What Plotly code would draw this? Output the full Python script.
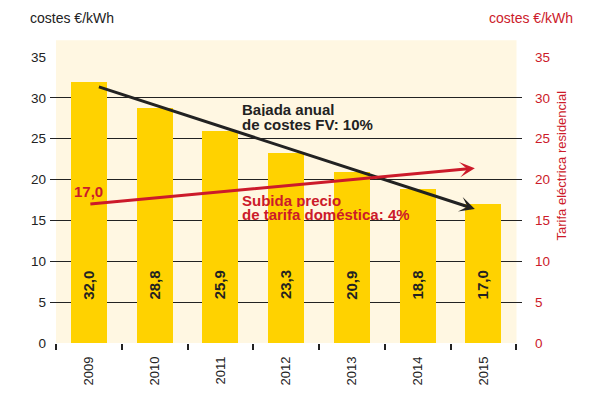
import plotly.graph_objects as go

# ---- data ----
years = [2009, 2010, 2011, 2012, 2013, 2014, 2015]
pv_costs = [32.0, 28.8, 25.9, 23.3, 20.9, 18.8, 17.0]
y_ticks = [0, 5, 10, 15, 20, 25, 30, 35]

pv_trend_x = [2009.13, 2014.87]
pv_trend_y = [31.4, 16.4]
tariff_trend_x = [2009.0, 2014.87]
tariff_trend_y = [17.0, 21.4]

pv_label = ["Bajada anual", "de costes FV: 10%"]
tariff_label = ["Subida precio", "de tarifa doméstica: 4%"]
left_title = "costes €/kWh"
right_title = "costes €/kWh"
right_axis_title = "Tarifa eléctrica residencial"

# ---- style ----
YELLOW = "#FFD200"
CREAM = "#FFF7E2"
RED = "#CC1A2A"
DARK = "#222222"
FONT = "Liberation Sans, Arial, sans-serif"

PAGE_OFF = 8  # default page margin of the html body
L, R, T, B = 50, 522, 57, 347  # plot area in screen pixels
W, H = R - L, B - T


def px(x):
    return (x - L) / W


def py(y):
    return (B - y) / H


fig = go.Figure()
fig.add_trace(go.Bar(
    x=years, y=pv_costs, width=0.55,
    marker=dict(color=YELLOW, line=dict(width=0)),
    hoverinfo="skip", showlegend=False,
))
# invisible trace on the right axis (tariff trend)
fig.add_trace(go.Scatter(
    x=tariff_trend_x, y=tariff_trend_y, yaxis="y2", mode="lines",
    line=dict(width=0, color=RED), opacity=0, hoverinfo="skip", showlegend=False,
))

annotations = []
# bar value labels
for yr, v in zip(years, pv_costs):
    annotations.append(dict(
        x=yr, y=7.1, xref="x", yref="y", text=f"{v:.1f}".replace(".", ","),
        textangle=-90, showarrow=False, xanchor="center", yanchor="middle",
        font=dict(family=FONT, size=15, color=DARK, weight="bold"),
    ))

# trend arrows
annotations.append(dict(
    x=pv_trend_x[1], y=pv_trend_y[1], ax=pv_trend_x[0], ay=pv_trend_y[0],
    xref="x", yref="y", axref="x", ayref="y", text="", showarrow=True,
    arrowhead=3, arrowsize=0.85, arrowwidth=3, arrowcolor=DARK, standoff=0,
))
annotations.append(dict(
    x=tariff_trend_x[1], y=tariff_trend_y[1], ax=tariff_trend_x[0], ay=tariff_trend_y[0],
    xref="x", yref="y2", axref="x", ayref="y2", text="", showarrow=True,
    arrowhead=3, arrowsize=0.85, arrowwidth=3, arrowcolor=RED, standoff=0,
))

# trend texts
for t, yc in zip(pv_label, [109.5, 124.5]):
    annotations.append(dict(
        x=px(241), y=py(yc), xref="paper", yref="paper", text=t, showarrow=False,
        xanchor="left", yanchor="middle", height=14, borderpad=0,
        font=dict(family=FONT, size=15, color=DARK, weight="bold"),
    ))
for t, yc in zip(tariff_label, [201.5, 216]):
    annotations.append(dict(
        x=px(241), y=py(yc), xref="paper", yref="paper", text=t, showarrow=False,
        xanchor="left", yanchor="middle", height=14, borderpad=0,
        font=dict(family=FONT, size=15, color=RED, weight="bold"),
    ))
annotations.append(dict(
    x=tariff_trend_x[0], y=py(193), xref="x", yref="paper",
    text=f"{tariff_trend_y[0]:.1f}".replace(".", ","), showarrow=False,
    xanchor="center", yanchor="middle",
    font=dict(family=FONT, size=15, color=RED, weight="bold"),
))

# titles
annotations.append(dict(
    x=px(28), y=py(17), xref="paper", yref="paper", text=left_title, showarrow=False,
    xanchor="left", yanchor="middle", font=dict(family=FONT, size=14, color=DARK),
))
annotations.append(dict(
    x=px(575), y=py(17), xref="paper", yref="paper", text=right_title, showarrow=False,
    xanchor="right", yanchor="middle", font=dict(family=FONT, size=14, color=RED),
))
annotations.append(dict(
    x=px(561), y=py(167), xref="paper", yref="paper", text=right_axis_title,
    showarrow=False, textangle=-90, xanchor="center", yanchor="middle",
    font=dict(family=FONT, size=13, color=RED),
))

fig.update_layout(
    width=600 - PAGE_OFF, height=398 - PAGE_OFF, autosize=False,
    margin=dict(l=L - PAGE_OFF, r=600 - R, t=T - PAGE_OFF, b=398 - B),
    paper_bgcolor="white", plot_bgcolor="rgba(0,0,0,0)",
    showlegend=False, bargap=0,
    font=dict(family=FONT, color=DARK),
    shapes=[dict(
        type="rect", xref="paper", yref="paper", layer="below",
        x0=px(56), x1=px(516.5), y0=0, y1=py(40),
        fillcolor=CREAM, line=dict(width=0),
    )],
    annotations=annotations,
    xaxis=dict(
        range=[2008.409, 2015.587], tickmode="array", tickvals=years,
        ticktext=[str(y) for y in years], tickangle=-90, ticks="",
        tickfont=dict(family=FONT, size=13, color=DARK),
        ticklabelstandoff=10,
        showgrid=False, zeroline=False, showline=False,
        minor=dict(tickmode="array", tickvals=[y - 0.5 for y in years] + [years[-1] + 0.5],
                   ticks="outside", ticklen=6, tickcolor=DARK, tickwidth=1.5, showgrid=False),
    ),
    yaxis=dict(
        range=[0, 35], tickmode="array", tickvals=y_ticks, ticks="",
        tickfont=dict(family=FONT, size=13.5, color=DARK),
        showgrid=True, gridcolor=DARK, gridwidth=1.3, zeroline=False, showline=False,
        ticklabelstandoff=3,
    ),
    yaxis2=dict(
        range=[0, 35], tickmode="array", tickvals=y_ticks, ticks="",
        overlaying="y", side="right",
        tickfont=dict(family=FONT, size=13.5, color=RED),
        showgrid=False, zeroline=False, showline=False,
        ticklabelstandoff=12,
    ),
)

fig.write_html("out.html")
